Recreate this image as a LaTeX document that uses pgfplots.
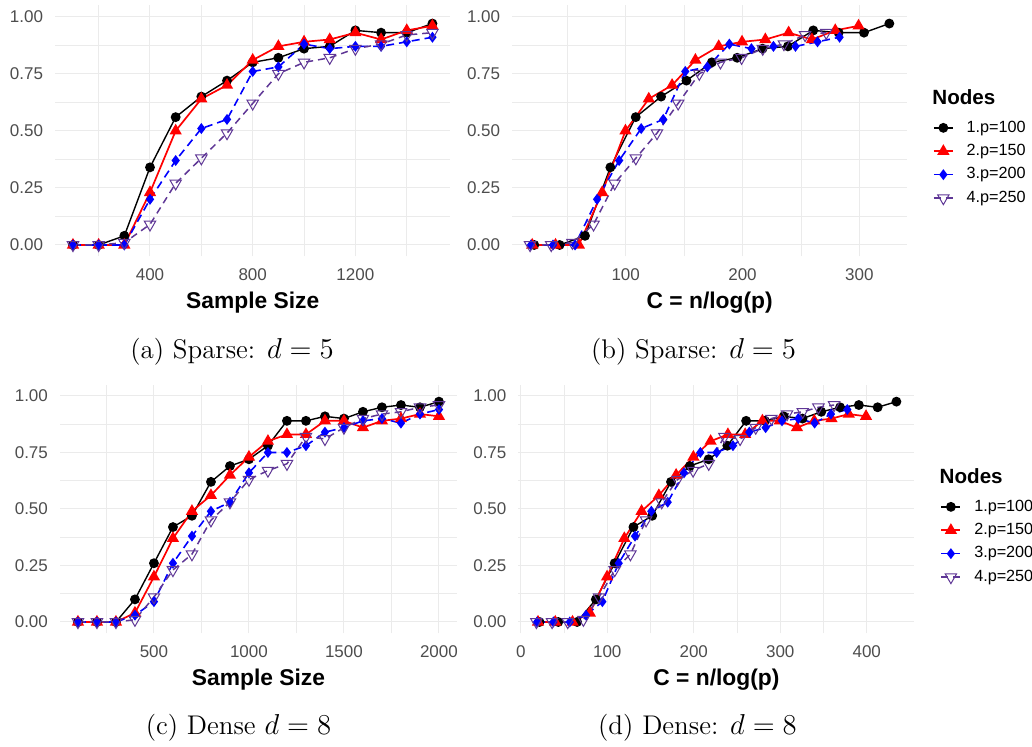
\documentclass[border=0pt]{standalone}
\usepackage{fontspec}
\usepackage{pgfplots}
\usepackage{pgfplotstable}
\pgfplotsset{compat=1.18}
\newfontfamily\arial{Liberation Sans}
\definecolor{gridc}{gray}{0.92}
\definecolor{tickc}{RGB}{77,77,77}
\definecolor{purp}{RGB}{95,55,150}

\pgfplotstableread{
n p100 p150 p200 p250
100 0 0 0 0
200 0 0 0 0
300 0.04 0 0 0.01
400 0.34 0.23 0.20 0.09
500 0.56 0.50 0.37 0.27
600 0.65 0.64 0.51 0.38
700 0.72 0.70 0.55 0.49
800 0.80 0.81 0.76 0.62
900 0.82 0.87 0.78 0.75
1000 0.86 0.89 0.88 0.80
1100 0.87 0.90 0.86 0.82
1200 0.94 0.93 0.87 0.86
1300 0.93 0.90 0.87 0.88
1400 0.93 0.94 0.89 0.92
1500 0.97 0.96 0.91 0.93
}\sparse

\pgfplotstableread{
n p100 p150 p200 p250
100 0 0 0 0
200 0 0 0 0
300 0 0 0 0
400 0.10 0.04 0.03 0.01
500 0.26 0.20 0.09 0.11
600 0.42 0.37 0.26 0.23
700 0.47 0.49 0.38 0.30
800 0.62 0.56 0.49 0.45
900 0.69 0.65 0.53 0.53
1000 0.72 0.73 0.66 0.63
1100 0.78 0.80 0.75 0.67
1200 0.89 0.83 0.75 0.70
1300 0.89 0.83 0.78 0.82
1400 0.91 0.89 0.84 0.81
1500 0.90 0.89 0.86 0.86
1600 0.93 0.86 0.89 0.90
1700 0.95 0.89 0.90 0.92
1800 0.96 0.90 0.88 0.93
1900 0.95 0.92 0.92 0.95
2000 0.975 0.91 0.94 0.96
}\dense

\pgfplotsset{
  panel/.style={
    scale only axis, anchor=south west, clip=true,
    axis line style={draw=none}, tick style={draw=none},
    grid=both,
    major grid style={gridc, line width=0.5pt},
    minor grid style={gridc, line width=0.35pt},
    ymin=-0.05, ymax=1.05,
    ytick={0,0.25,0.5,0.75,1},
    minor ytick={0.125,0.375,0.625,0.875},
    yticklabels={0.00,0.25,0.50,0.75,1.00},
    ticklabel style={font=\arial\fontsize{8.5}{10}\selectfont, text=tickc, inner sep=0pt},
    yticklabel style={xshift=-5.8pt},
    xticklabel style={yshift=-5.8pt},
    xlabel style={font=\arial\bfseries\fontsize{11.4}{13}\selectfont,
      at={(axis description cs:0.5,0)}, anchor=base, yshift=-26pt},
  },
  s1/.style={black, line width=0.7pt, mark=*, mark size=2.1pt, mark options={solid}},
  s2/.style={red, line width=0.85pt, mark=triangle*, mark size=2.7pt, mark options={solid}},
  s3/.style={blue, line width=0.8pt, dash pattern=on 4pt off 2.5pt, mark=diamond*, mark size=2.1pt, mark options={solid}},
  s4/.style={purp, line width=0.75pt, dash pattern=on 3.5pt off 2.5pt, mark=triangle, mark size=3.3pt, mark options={solid, rotate=180, line width=0.5pt}},
  leg/.style={
    legend cell align=left,
    legend style={draw=none, fill=none, inner sep=0pt, outer sep=0pt, anchor=north west,
      font=\arial\fontsize{8.1}{10}\selectfont,
      nodes={inner sep=0pt}, row sep=4.55pt,
      /tikz/every odd column/.append style={column sep=6.5pt}},
    legend image code/.code={\draw[mark repeat=2,mark phase=2,##1] plot coordinates {(0pt,0pt) (4.75pt,0pt) (9.5pt,0pt)};},
  },
}

\begin{document}
\begin{tikzpicture}
\useasboundingbox (0,0) rectangle (516pt,373.5pt);

% (a)
\begin{axis}[panel, at={(27.5pt,245.3pt)}, width=197.7pt, height=125.55pt,
  xmin=30, xmax=1570, xtick={400,800,1200}, xticklabels={400,800,1200},
  minor xtick={200,600,1000,1400}, xlabel={Sample Size}]
\addplot[s1] table[x=n,y=p100] {\sparse};
\addplot[s2] table[x=n,y=p150] {\sparse};
\addplot[s3] table[x=n,y=p200] {\sparse};
\addplot[s4] table[x=n,y=p250] {\sparse};
\end{axis}

% (b)
\begin{axis}[panel, leg, at={(256.05pt,245.3pt)}, width=197.6pt, height=125.55pt,
  xmin=2.73, xmax=341.1, xtick={100,200,300}, xticklabels={100,200,300},
  minor xtick={50,150,250}, xlabel={C = n/log(p)},
  legend style={at={(1.065,0.5404)}}]
\addplot[s1] table[x expr=\thisrow{n}/ln(100),y=p100] {\sparse};
\addplot[s2] table[x expr=\thisrow{n}/ln(150),y=p150] {\sparse};
\addplot[s3] table[x expr=\thisrow{n}/ln(200),y=p200] {\sparse};
\addplot[s4] table[x expr=\thisrow{n}/ln(250),y=p250] {\sparse};
\legend{1.p=100,2.p=150,3.p=200,4.p=250}
\end{axis}

% (c)
\begin{axis}[panel, at={(29.95pt,56.85pt)}, width=198.55pt, height=124.3pt,
  xmin=5, xmax=2095, xtick={500,1000,1500,2000}, xticklabels={500,1000,1500,2000},
  minor xtick={250,750,1250,1750}, xlabel={Sample Size}]
\addplot[s1] table[x=n,y=p100] {\dense};
\addplot[s2] table[x=n,y=p150] {\dense};
\addplot[s3] table[x=n,y=p200] {\dense};
\addplot[s4] table[x=n,y=p250] {\dense};
\end{axis}

% (d)
\begin{axis}[panel, leg, at={(259.2pt,56.85pt)}, width=198pt, height=124.3pt,
  xmin=-2.7, xmax=455.1, xtick={0,100,200,300,400}, xticklabels={0,100,200,300,400},
  minor xtick={50,150,250,350}, xlabel={C = n/log(p)},
  legend style={at={(1.066,0.5374)}}]
\addplot[s1] table[x expr=\thisrow{n}/ln(100),y=p100] {\dense};
\addplot[s2] table[x expr=\thisrow{n}/ln(150),y=p150] {\dense};
\addplot[s3] table[x expr=\thisrow{n}/ln(200),y=p200] {\dense};
\addplot[s4] table[x expr=\thisrow{n}/ln(250),y=p250] {\dense};
\legend{1.p=100,2.p=150,3.p=200,4.p=250}
\end{axis}

\node[anchor=base west, inner sep=0pt, font=\arial\bfseries\fontsize{10.3}{12}\selectfont] at (466pt,321.35pt) {Nodes};
\node[anchor=base west, inner sep=0pt, font=\arial\bfseries\fontsize{10.3}{12}\selectfont] at (469.65pt,131.85pt) {Nodes};

\node[anchor=base, font=\fontsize{13.5}{16}\selectfont] at (116pt,194pt) {(a) Sparse: $d = 5$};
\node[anchor=base, font=\fontsize{13.5}{16}\selectfont] at (346.75pt,194pt) {(b) Sparse: $d = 5$};
\node[anchor=base, font=\fontsize{13.5}{16}\selectfont] at (119.25pt,6pt) {(c) Dense $d = 8$};
\node[anchor=base, font=\fontsize{13.5}{16}\selectfont] at (348.75pt,6pt) {(d) Dense: $d = 8$};
\end{tikzpicture}
\end{document}
